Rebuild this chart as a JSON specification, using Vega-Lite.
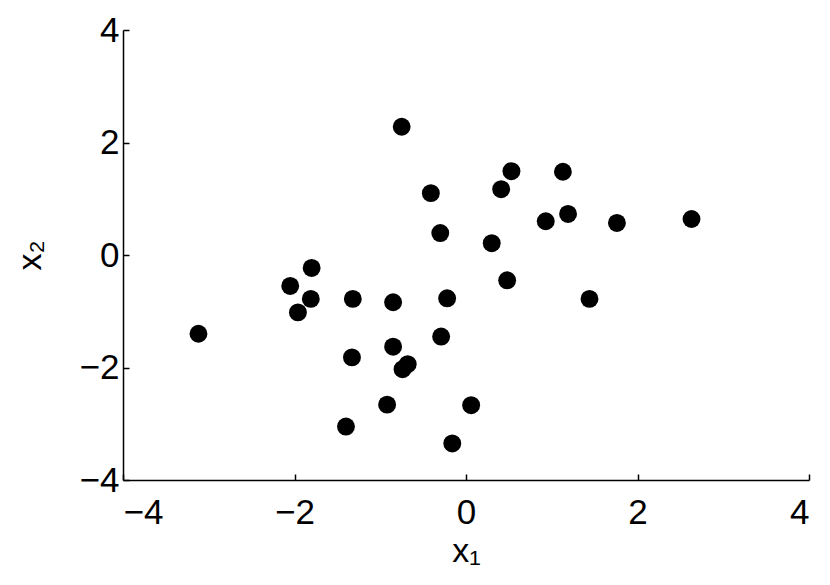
{
  "$schema": "https://vega.github.io/schema/vega-lite/v6.json",
  "width": 686,
  "height": 450,
  "autosize": "none",
  "padding": {"left": 123, "top": 30, "right": 21, "bottom": 105},
  "background": "white",
  "config": {
    "view": {"stroke": null},
    "font": "Liberation Sans",
    "axis": {
      "grid": false,
      "domainColor": "black",
      "domainWidth": 1.5,
      "tickColor": "black",
      "tickWidth": 1.5,
      "tickSize": -6,
      "labelColor": "black",
      "labelFont": "Liberation Sans",
      "labelFontSize": 35,
      "titleFont": "Liberation Sans",
      "titleFontSize": 34,
      "titleFontWeight": "normal",
      "titleColor": "black"
    }
  },
  "data": {
    "values": [
      {"x1": -3.12, "x2": -1.40},
      {"x1": -0.75, "x2": 2.28},
      {"x1": -0.41, "x2": 1.10},
      {"x1": 0.53, "x2": 1.49},
      {"x1": 0.41, "x2": 1.17},
      {"x1": 1.13, "x2": 1.48},
      {"x1": 0.93, "x2": 0.60},
      {"x1": 1.19, "x2": 0.73},
      {"x1": 1.76, "x2": 0.57},
      {"x1": 2.63, "x2": 0.64},
      {"x1": -0.30, "x2": 0.39},
      {"x1": 0.30, "x2": 0.21},
      {"x1": 0.48, "x2": -0.45},
      {"x1": 1.44, "x2": -0.78},
      {"x1": -2.05, "x2": -0.55},
      {"x1": -1.80, "x2": -0.23},
      {"x1": -1.81, "x2": -0.78},
      {"x1": -1.96, "x2": -1.02},
      {"x1": -1.32, "x2": -0.78},
      {"x1": -0.85, "x2": -0.84},
      {"x1": -0.22, "x2": -0.77},
      {"x1": -0.29, "x2": -1.45},
      {"x1": -1.33, "x2": -1.82},
      {"x1": -0.85, "x2": -1.63},
      {"x1": -0.68, "x2": -1.94},
      {"x1": -0.74, "x2": -2.03},
      {"x1": -0.92, "x2": -2.66},
      {"x1": 0.06, "x2": -2.67},
      {"x1": -1.40, "x2": -3.05},
      {"x1": -0.16, "x2": -3.35}
    ]
  },
  "mark": {"type": "circle", "size": 320, "color": "black", "opacity": 1},
  "encoding": {
    "x": {
      "field": "x1",
      "type": "quantitative",
      "scale": {"domain": [-4, 4], "nice": false, "zero": false},
      "axis": {"values": [-4, -2, 0, 2, 4], "title": "x₁", "labelPadding": 21, "titlePadding": 4, "format": "d"}
    },
    "y": {
      "field": "x2",
      "type": "quantitative",
      "scale": {"domain": [-4, 4], "nice": false, "zero": false},
      "axis": {"values": [-4, -2, 0, 2, 4], "title": "x₂", "labelPadding": 10, "titlePadding": 32, "format": "d"}
    }
  }
}
